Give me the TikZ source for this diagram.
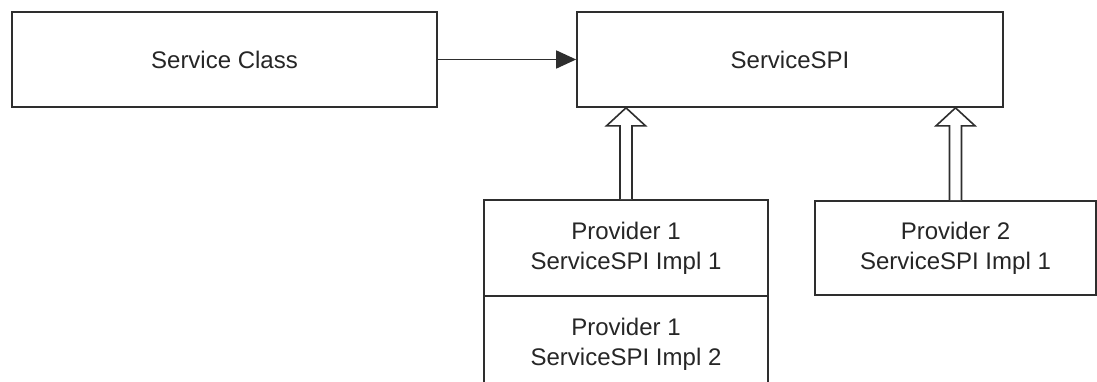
\documentclass[tikz,border=0pt]{standalone}
\usepackage{fontspec}
\setmainfont{Liberation Sans}
\usetikzlibrary{arrows.meta,calc}

% hollow "implements" arrow from the top of a provider box up to the SPI box
\newcommand\implarrow[2]{%
  \path (#1.north) coordinate (#1-foot) (#1-foot |- #2.south) coordinate (#1-head);
  \draw[hollow] ($(#1-foot)+(-6,0)$) -- ($(#1-head)+(-6,-18)$)
    -- ($(#1-head)+(-19.5,-18)$) -- (#1-head) -- ($(#1-head)+(19.5,-18)$)
    -- ($(#1-head)+(6,-18)$) -- ($(#1-foot)+(6,0)$);
}

\begin{document}
\begin{tikzpicture}[x=1pt,y=1pt,
  ink/.style={draw=black!82},
  box/.style={ink, line width=1.7pt, fill=white, minimum width=#1,
    minimum height=95pt, inner sep=0pt, align=center,
    font=\fontsize{24}{30}\selectfont, text=black!85},
  hollow/.style={ink, line width=1.6pt, fill=white, line join=miter},
  uses/.style={ink, line width=1.7pt,
    -{Triangle[length=20pt,width=18pt]}}]
  \fill[white] (0,0) rectangle (1097,382);
  \useasboundingbox (0,0) rectangle (1097,382);
  \clip (0,0) rectangle (1097,382);

  \node[box=425pt] (sc)  at (224.5,322.5) {Service Class};
  \node[box=426pt] (spi) at (790,322.5)   {ServiceSPI};

  \node[box=284pt, minimum height=96pt] (p1a) at (626,134)
    {Provider 1\\ServiceSPI Impl 1};
  \node[box=284pt, minimum height=96pt] (p1b) at (626,38)
    {Provider 1\\ServiceSPI Impl 2};
  \node[box=281pt, minimum height=94pt] (p2) at (955.5,134)
    {Provider 2\\ServiceSPI Impl 1};

  \draw[uses] (sc.east) -- (spi.west);
  \implarrow{p1a}{spi}
  \implarrow{p2}{spi}
\end{tikzpicture}
\end{document}
